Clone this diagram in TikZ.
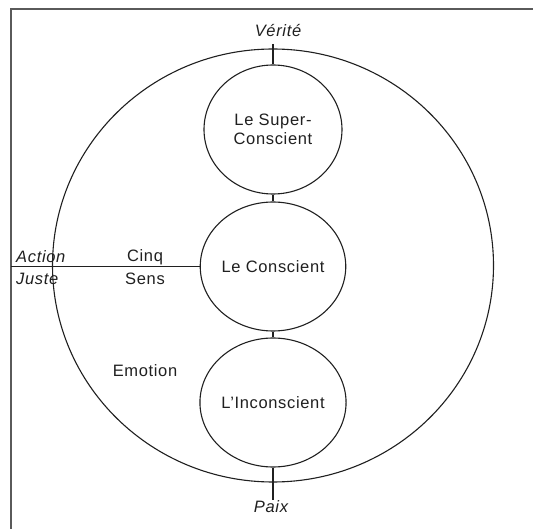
\documentclass[tikz,border=0pt]{standalone}
\usepackage{fontspec}
\setmainfont{Liberation Sans}[LetterSpace=4]
\usetikzlibrary{shapes.geometric}
\definecolor{framegray}{HTML}{5A5A5A}
\definecolor{ink}{HTML}{202020}
\begin{document}
\begin{tikzpicture}[x=1pt,y=-1pt,
  every node/.style={font=\fontsize{16.5}{19.5}\selectfont, text=ink},
  inner/.style={draw=ink, line width=1.1pt, ellipse, minimum width=138pt, minimum height=129pt, inner sep=0pt, align=center},
  link/.style={draw=ink, line width=1.1pt},
  lab/.style={inner sep=1pt, align=center},
  ilab/.style={inner sep=1pt, font=\fontsize{16.5}{19.5}\selectfont\itshape}]
\useasboundingbox (0,0) rectangle (533,529);
\fill[white] (0,0) rectangle (533,529);
% frame (top and left edges)
\draw[framegray, line width=2pt] (533,9) -- (11,9) -- (11,529);
% outer circle
\node[draw=ink, line width=1.1pt, ellipse, minimum width=441pt, minimum height=433pt, inner sep=0pt] (outer) at (273,265.5) {};
% inner circles
\node[inner] (sup) at (273,129.5) {Le Super-\\Conscient};
\node[inner] (cons) at (273,266.5) {Le Conscient};
\node[inner] (inc) at (273,402.5) {L'Inconscient};
% connectors
\draw[link] (sup.south) -- (cons.north);
\draw[link] (cons.south) -- (inc.north);
\coordinate (vtop) at (273,44);
\coordinate (pbot) at (273,500);
\coordinate (lend) at (11,266.5);
\draw[link] (vtop) -- (sup.north);
\draw[link] (inc.south) -- (pbot);
\draw[link] (lend) -- (cons.west);
% labels
\node[ilab] (verite) at (278,31) {Vérité};
\node[ilab] (paix) at (271,507) {Paix};
\node[ilab, anchor=west] (action) at (15,257) {Action};
\node[ilab, anchor=west] (juste) at (15,279) {Juste};
\node[lab] (cinq) at (145,257) {Cinq};
\node[lab] (sens) at (145,279) {Sens};
\node[lab] (emotion) at (145,371) {Emotion};
\end{tikzpicture}
\end{document}
